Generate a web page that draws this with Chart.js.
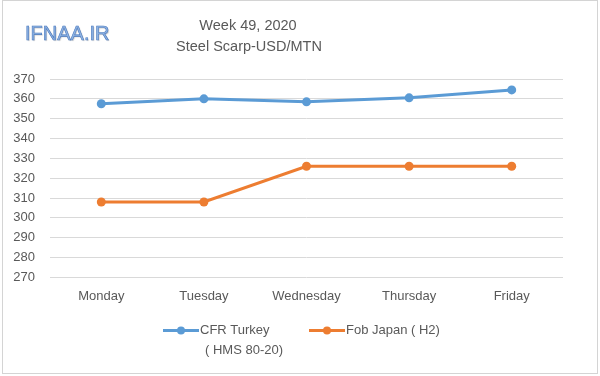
<!DOCTYPE html>
<html>
<head>
<meta charset="utf-8">
<script src="https://cdn.jsdelivr.net/npm/chart.js@4"></script>
<style>
html,body{margin:0;padding:0;background:#fff;}
#wrap{width:600px;height:376px;position:relative;}
</style>
</head>
<body>
<div id="wrap"><canvas id="c" width="600" height="376"></canvas></div>
<script>
const categories = ["Monday", "Tuesday", "Wednesday", "Thursday", "Friday"];
const cfrTurkey = [357.5, 360, 358.5, 360.5, 364.5];
const fobJapan = [308, 308, 326, 326, 326];
const seriesLabels = [["CFR Turkey", "( HMS 80-20)"], ["Fob Japan ( H2)"]];
const titleLines = ["Week 49, 2020", "Steel Scarp-USD/MTN"];
const logoText = "IFNAA.IR";
const yMin = 270, yMax = 370, yStep = 10;

const FONT = "'Liberation Sans', Arial, sans-serif";
const TXT = "#595959";

const decor = {
  id: "decor",
  afterDraw(chart) {
    const ctx = chart.ctx;
    ctx.save();
    ctx.strokeStyle = "#d4d4d4";
    ctx.lineWidth = 1;
    ctx.strokeRect(2.5, 0.5, 595, 373);
    ctx.fillStyle = TXT;
    ctx.textAlign = "center";
    ctx.textBaseline = "middle";
    ctx.font = "14.5px " + FONT;
    ctx.fillText(titleLines[0], 248, 26);
    ctx.fillText(titleLines[1], 249, 47);
    ctx.font = "20px " + FONT;
    ctx.textAlign = "left";
    ctx.shadowColor = "rgba(0,0,0,0.2)";
    ctx.shadowOffsetX = 1; ctx.shadowOffsetY = 1; ctx.shadowBlur = 1;
    ctx.fillStyle = "#8fb4e4";
    ctx.fillText(logoText, 25, 34);
    ctx.shadowColor = "transparent";
    ctx.strokeStyle = "#4a78bd";
    ctx.lineWidth = 0.6;
    ctx.strokeText(logoText, 25, 34);
    const ds = chart.data.datasets;
    const items = [{x: 163, lines: seriesLabels[0]}, {x: 309, lines: seriesLabels[1]}];
    ctx.font = "13px " + FONT;
    items.forEach((it, i) => {
      const col = ds[i].borderColor;
      const y = 330.5;
      ctx.strokeStyle = col;
      ctx.lineWidth = 3;
      ctx.beginPath(); ctx.moveTo(it.x, y); ctx.lineTo(it.x + 36, y); ctx.stroke();
      ctx.fillStyle = col;
      ctx.beginPath(); ctx.arc(it.x + 18, y, 4, 0, Math.PI * 2); ctx.fill();
      ctx.fillStyle = TXT;
      ctx.textAlign = "left";
      ctx.fillText(it.lines[0], it.x + 37, y);
      if (it.lines[1]) ctx.fillText(it.lines[1], it.x + 42, y + 20);
    });
    ctx.restore();
  }
};

new Chart(document.getElementById("c"), {
  type: "line",
  data: {
    labels: categories,
    datasets: [
      {label: seriesLabels[0].join(" "), data: cfrTurkey, borderColor: "#5b9bd5", backgroundColor: "#5b9bd5",
       borderWidth: 3, pointRadius: 4.5, pointBackgroundColor: "#5b9bd5", pointBorderWidth: 0, tension: 0},
      {label: seriesLabels[1].join(" "), data: fobJapan, borderColor: "#ed7d31", backgroundColor: "#ed7d31",
       borderWidth: 3, pointRadius: 4.5, pointBackgroundColor: "#ed7d31", pointBorderWidth: 0, tension: 0}
    ]
  },
  options: {
    responsive: false,
    animation: false,
    layout: {padding: {top: 79, left: 0, right: 37, bottom: 69}},
    plugins: {legend: {display: false}, title: {display: false}, tooltip: {enabled: false}},
    scales: {
      x: {
        offset: true,
        grid: {display: false},
        border: {display: false},
        ticks: {color: TXT, font: {family: FONT, size: 13}, padding: 3}
      },
      y: {
        min: yMin, max: yMax,
        afterFit(s) { s.width = 50; },
        grid: {color: "#d9d9d9", lineWidth: 1, drawTicks: false},
        border: {display: false},
        ticks: {stepSize: yStep, color: TXT, font: {family: FONT, size: 13}, padding: 15}
      }
    }
  },
  plugins: [decor]
});
</script>
</body>
</html>
